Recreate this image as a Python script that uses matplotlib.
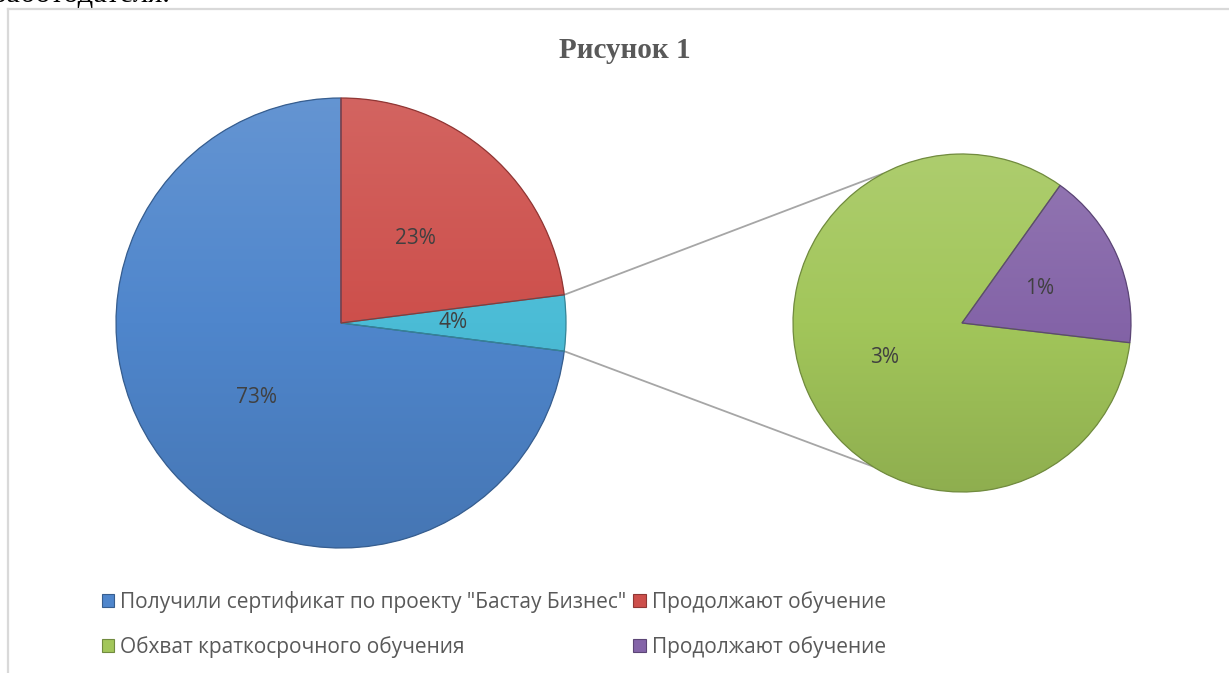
import matplotlib
matplotlib.use("Agg")
import matplotlib.pyplot as plt
import numpy as np
from matplotlib.colors import LinearSegmentedColormap, to_rgb
from matplotlib.patches import Patch, Wedge

# ---------------- data ----------------
title = "Рисунок 1"
labels = ['Получили сертификат по проекту "Бастау Бизнес"',
          "Продолжают обучение",
          "Обхват краткосрочного обучения",
          "Продолжают обучение"]
values = [73, 23, 3.32, 0.68]
colors = ["#4f86cc", "#cd4f4b", "#a2c65a", "#8464a8"]
other_color = "#4bbcd6"
prev_text = "работодателя."

# ---------------- layout ----------------
W, H = 1229, 673
fig = plt.figure(figsize=(W / 100, H / 100), dpi=100)
ax = fig.add_axes([0, 0, 1, 1])

lab_font = ["Open Sans", "DejaVu Sans"]
pct_color = "#404040"


def shade(c, f):
    r, g, b = to_rgb(c)
    if f >= 0:
        return (r + (1 - r) * f, g + (1 - g) * f, b + (1 - b) * f)
    return (r * (1 + f), g * (1 + f), b * (1 + f))


def add_gradient(wedges, cols, center, radius):
    for w, c in zip(wedges, cols):
        cmap = LinearSegmentedColormap.from_list("g", [shade(c, -0.12), c, shade(c, 0.12)])
        grad = np.linspace(0, 1, 256).reshape(-1, 1)
        im = ax.imshow(grad, cmap=cmap, origin="lower", aspect="auto",
                       extent=[center[0] - radius, center[0] + radius,
                               center[1] - radius, center[1] + radius],
                       zorder=2)
        im.set_clip_path(w)
        w.set_zorder(1)
        ax.add_patch(Wedge(w.center, w.r, w.theta1, w.theta2,
                           facecolor="none", edgecolor=shade(c, -0.3),
                           lw=0.9, zorder=3))


# main pie
other_total = values[2] + values[3]
main_vals = [values[0], other_total, values[1]]
main_cols = [colors[0], other_color, colors[1]]
c1, r1 = (341, H - 323), 225
w1, _, t1 = ax.pie(main_vals, colors=main_cols, startangle=90, counterclock=True,
                   center=c1, radius=r1, autopct="%1.0f%%", pctdistance=0.5,
                   wedgeprops=dict(linewidth=0),
                   textprops=dict(color=pct_color, fontsize=15, family=lab_font))
add_gradient(w1, main_cols, c1, r1)
for t in t1:
    t.set_zorder(5)

# secondary pie
c2, r2 = (962, H - 323), 169
sec_vals = [values[2], values[3]]
sec_cols = [colors[2], colors[3]]
w2, _, t2 = ax.pie(sec_vals, colors=sec_cols, startangle=54.5, counterclock=True,
                   center=c2, radius=r2,
                   autopct=lambda p: f"{p * other_total / 100:.0f}%", pctdistance=0.5,
                   wedgeprops=dict(linewidth=0),
                   textprops=dict(color=pct_color, fontsize=15, family=lab_font))
add_gradient(w2, sec_cols, c2, r2)
for t in t2:
    t.set_zorder(5)

# connector lines
ow = w1[1]
for a_main, a_sec in ((ow.theta2, 118), (ow.theta1, -122)):
    x0 = c1[0] + r1 * np.cos(np.radians(a_main))
    y0 = c1[1] + r1 * np.sin(np.radians(a_main))
    x1 = c2[0] + r2 * np.cos(np.radians(a_sec))
    y1 = c2[1] + r2 * np.sin(np.radians(a_sec))
    ax.plot([x0, x1], [y0, y1], color="#a6a6a6", lw=1.3, zorder=0.5)

# chart-area border
ax.plot([8, 8], [0, H - 9], color="#d9d9d9", lw=1.6, zorder=0)
ax.plot([8, W], [H - 9, H - 9], color="#d9d9d9", lw=1.6, zorder=0)

# previous-page text (cut off at the top, as in the reference)
ax.text(-8, H - 2, prev_text, fontsize=22, family="Liberation Serif",
        color="black", va="baseline", ha="left")

# title
ax.text(625, H - 58, title, fontsize=21, family="Liberation Serif",
        fontweight="bold", color="#595959", ha="center", va="baseline")

# legend (column-major order)
order = [0, 2, 1, 3]
handles = [Patch(facecolor=colors[i], edgecolor=shade(colors[i], -0.3), lw=0.8)
           for i in order]
leg = ax.legend(handles, [labels[i] for i in order], ncol=2, frameon=False,
                loc="upper left", bbox_to_anchor=(102 / W, 1 - 591 / H),
                prop=dict(family=lab_font, size=15), labelcolor="#595959",
                handlelength=0.58, handleheight=0.58, handletextpad=0.3,
                columnspacing=0.33, labelspacing=1.1, borderpad=0,
                borderaxespad=0)

ax.set_xlim(0, W)
ax.set_ylim(0, H)
ax.set_aspect("auto")
ax.axis("off")

fig.savefig("out.png", dpi=100)
